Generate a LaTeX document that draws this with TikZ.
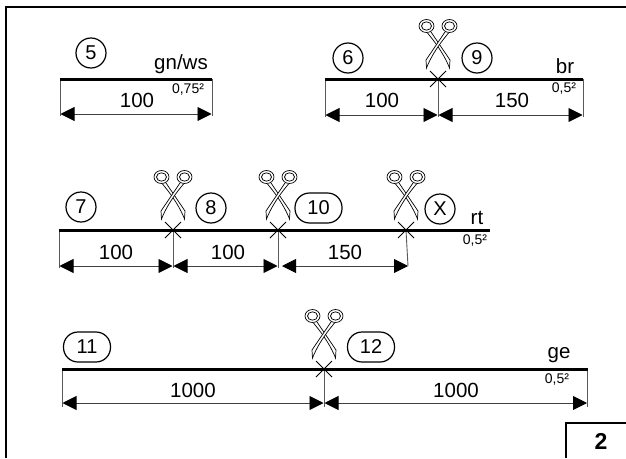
\documentclass[tikz,border=0pt]{standalone}
\usepackage{fontspec}
\setmainfont{Liberation Sans}
\usetikzlibrary{arrows.meta}
\tikzset{
  wire/.style={line width=3pt},
  frameline/.style={line width=2pt},
  dimline/.style={line width=0.9pt,black!75,{Triangle[length=14pt,width=14pt,black]}-{Triangle[length=14pt,width=14pt,black]}},
  dimtick/.style={line width=0.9pt,black!65},
  numcircle/.style={draw,circle,line width=1.2pt,minimum size=30pt,inner sep=0pt,font=\fontsize{20}{20}\selectfont},
  numpill/.style={draw,rounded corners=14.5pt,line width=1.2pt,minimum width=47pt,minimum height=30pt,inner sep=0pt,font=\fontsize{20}{20}\selectfont},
  dimlabel/.style={inner sep=0pt,font=\fontsize{20.5}{20}\selectfont},
  colourlabel/.style={inner sep=0pt,font=\fontsize{20.5}{20}\selectfont},
  sizelabel/.style={inner sep=0pt,font=\fontsize{14}{14}\selectfont},
  blade/.style={line width=0.7pt,fill=white},
  scissors/.pic={
    \draw[blade] (-7,-47) -- (12,-19) -- (11.5,-11) .. controls (8,-20) and (2,-31) .. (-10.5,-46);
    \draw[blade] (7,-47) -- (-12,-19) -- (-11.5,-11) .. controls (-8,-20) and (-2,-31) .. (10.5,-46);
    \draw[line width=0.7pt,fill=white] (-11.5,-53) ellipse (7.5 and 6.5);
    \draw[line width=0.7pt,fill=white] (-11.5,-53) ellipse (5 and 4.2);
    \draw[line width=0.7pt,fill=white] (11.5,-53) ellipse (7.5 and 6.5);
    \draw[line width=0.7pt,fill=white] (11.5,-53) ellipse (5 and 4.2);
    \draw[line width=1pt] (-8,-8) -- (8,8);
    \draw[line width=1pt] (-8,8) -- (8,-8);
  }
}
\begin{document}
\begin{tikzpicture}[x=1pt,y=-1pt]
  \useasboundingbox (0,0) rectangle (626,458);

  % frame
  \coordinate (frameBL) at (6,458);
  \coordinate (frameTL) at (6,7);
  \coordinate (frameTR) at (626,7);
  \coordinate (boxBL) at (566,458);
  \coordinate (boxTL) at (566,423);
  \coordinate (boxTR) at (626,423);
  \draw[frameline] (frameBL) -- (frameTL) -- (frameTR);
  \draw[frameline] (boxBL) -- (boxTL) -- (boxTR);
  \node[inner sep=0pt,font=\fontsize{23}{23}\selectfont\bfseries] (pagenum) at (601,441) {2};

  % wire 5
  \coordinate (a0) at (60,79);
  \coordinate (a1) at (212,79);
  \coordinate (a0d) at (60,116);
  \coordinate (a1d) at (212,116);
  \draw[dimtick] (a0) -- (a0d);
  \draw[dimtick] (a1) -- (a1d);
  \draw[wire] (a0) -- (a1);
  \draw[dimline] (60.5,114) -- (211.5,114);
  \node[numcircle] (c5) at (91,53) {5};
  \node[colourlabel,anchor=east] (gnws) at (208,64) {gn/ws};
  \node[sizelabel] (s075) at (188,90) {0,75²};
  \node[dimlabel] (d5) at (137,100) {100};

  % wire 6, 9
  \coordinate (b0) at (325,79);
  \coordinate (b1) at (438,79);
  \coordinate (b2) at (583,79);
  \coordinate (b0d) at (325,117);
  \coordinate (b1d) at (438,117);
  \coordinate (b2d) at (583,117);
  \draw[dimtick] (b0) -- (b0d);
  \draw[dimtick] (b1) -- (b1d);
  \draw[dimtick] (b2) -- (b2d);
  \draw[wire] (b0) -- (b2);
  \draw[dimline] (325.5,115) -- (437.5,115);
  \draw[dimline] (438.5,115) -- (582.5,115);
  \pic at (b1) {scissors};
  \node[numcircle] (c6) at (348,58) {6};
  \node[numcircle] (c9) at (477,58) {9};
  \node[colourlabel] (br) at (565,66) {br};
  \node[sizelabel] (s05a) at (564,89) {0,5²};
  \node[dimlabel] (d6) at (382,100) {100};
  \node[dimlabel] (d9) at (512,100) {150};

  % wire 7, 8, 10, X
  \coordinate (c0) at (59,230);
  \coordinate (c1) at (173,230);
  \coordinate (c2) at (278,230);
  \coordinate (c3) at (406,230);
  \coordinate (c4) at (490,230);
  \coordinate (c0d) at (59,268);
  \coordinate (c1d) at (173,268);
  \coordinate (c2d) at (278,268);
  \coordinate (c3d) at (408,266);
  \draw[dimtick] (c0) -- (c0d);
  \draw[dimtick] (c1) -- (c1d);
  \draw[dimtick] (c2) -- (c2d);
  \draw[dimtick] (c3) -- (c3d);
  \draw[wire] (c0) -- (c4);
  \draw[dimline] (59.5,266) -- (172.5,266);
  \draw[dimline] (173.5,266) -- (277.5,266);
  \draw[dimline] (282,266) -- (408,266);
  \pic at (c1) {scissors};
  \pic at (c2) {scissors};
  \pic at (c3) {scissors};
  \node[numcircle] (c7) at (81,207) {7};
  \node[numcircle] (c8) at (211,208) {8};
  \node[numpill] (c10) at (318.5,208) {10};
  \node[numcircle] (cX) at (440,209) {X};
  \node[colourlabel] (rt) at (477,218) {rt};
  \node[sizelabel] (s05b) at (475,241) {0,5²};
  \node[dimlabel] (d7) at (116,252) {100};
  \node[dimlabel] (d8) at (228,252) {100};
  \node[dimlabel] (d10) at (345,252) {150};

  % wire 11, 12
  \coordinate (d0) at (62,369);
  \coordinate (d1) at (324,369);
  \coordinate (d2) at (588,369);
  \coordinate (d0d) at (62,407);
  \coordinate (d1d) at (324,407);
  \coordinate (d2d) at (587,407);
  \draw[dimtick] (d0) -- (d0d);
  \draw[dimtick] (d1) -- (d1d);
  \draw[dimtick] (d2d |- d2) -- (d2d);
  \draw[wire] (d0) -- (d2);
  \draw[dimline] (62.5,403) -- (323.5,403);
  \draw[dimline] (324.5,403) -- (587,403);
  \pic at (d1) {scissors};
  \node[numpill] (c11) at (87,347) {11};
  \node[numpill] (c12) at (371,347) {12};
  \node[colourlabel] (ge) at (559,355) {ge};
  \node[sizelabel] (s05c) at (557,380) {0,5²};
  \node[dimlabel] (d11) at (193,390) {1000};
  \node[dimlabel] (d12) at (456,390) {1000};
\end{tikzpicture}
\end{document}
